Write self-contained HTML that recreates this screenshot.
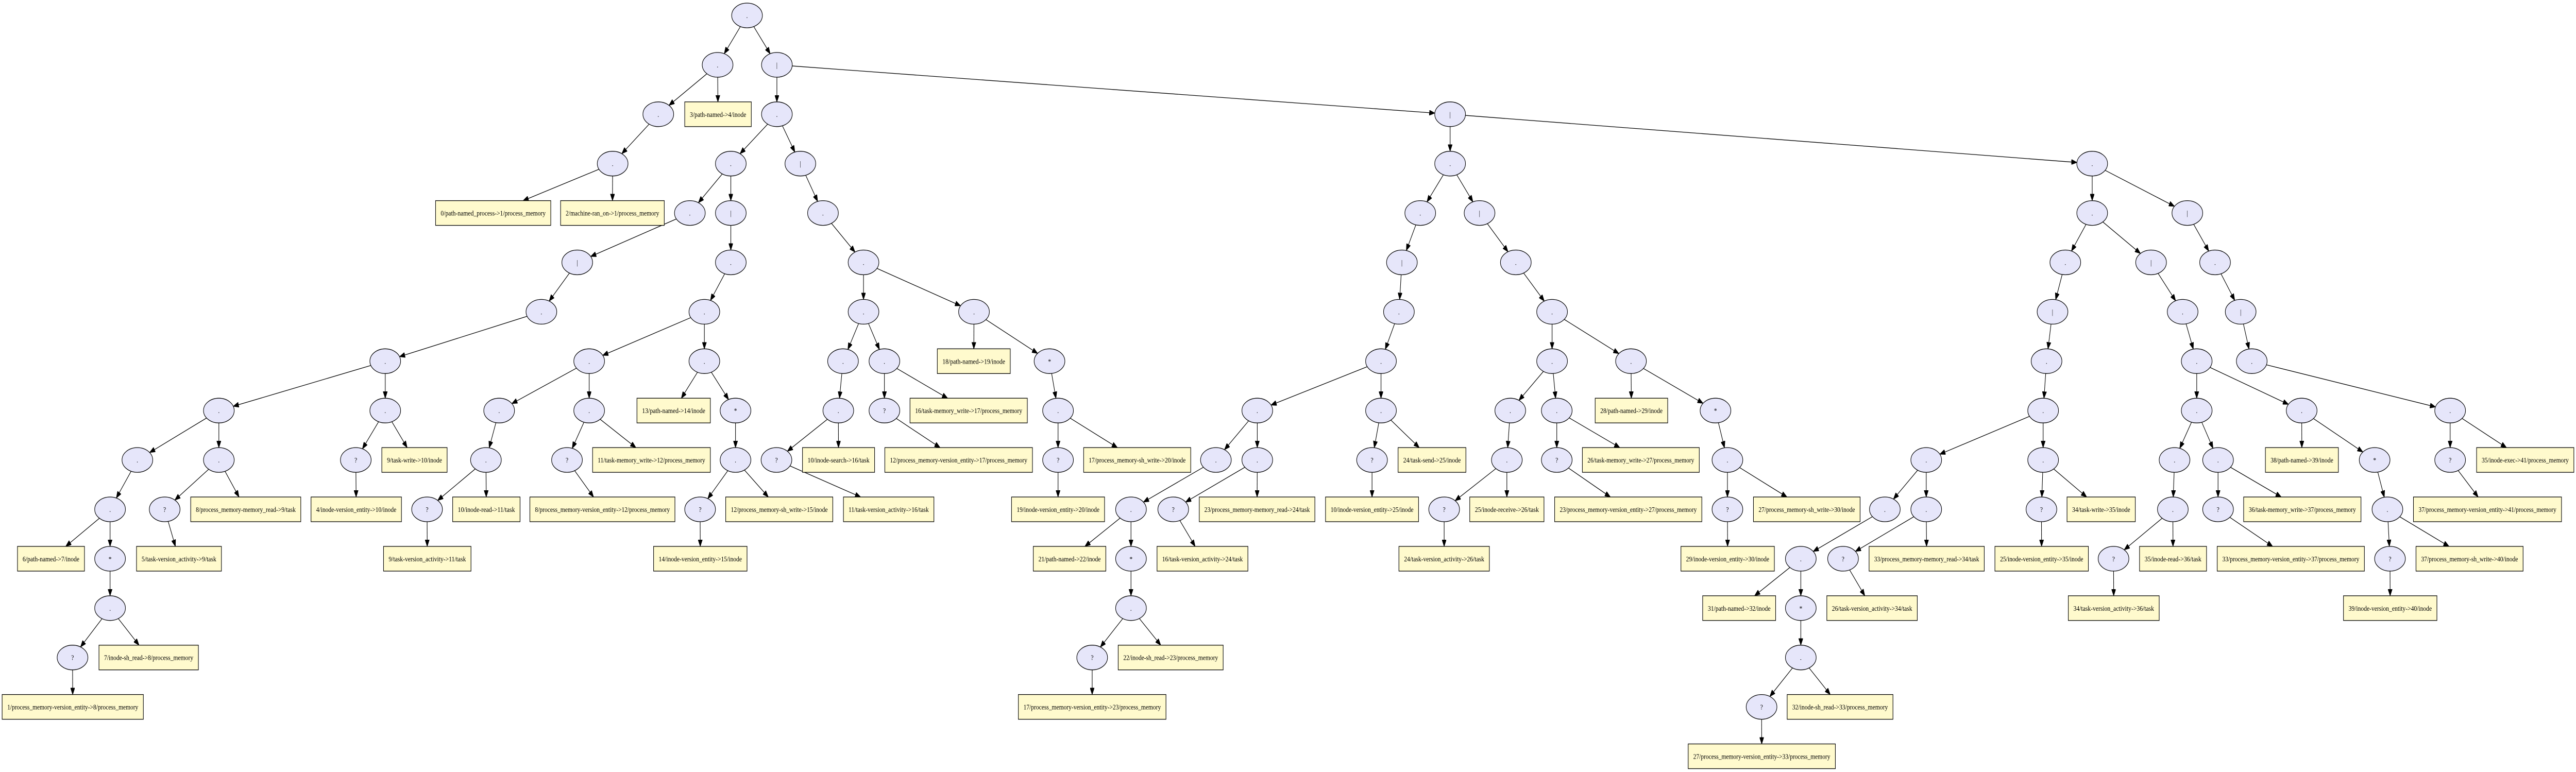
<!DOCTYPE html>
<html><head><meta charset="utf-8">
<style>
html,body{margin:0;padding:0;background:#fff;overflow:hidden;}
svg{display:block;width:100vw;height:100vh;}
text{font-family:"Liberation Serif",serif;font-size:14px;fill:#000;}
</style></head>
<body>
<svg id="g" xmlns="http://www.w3.org/2000/svg" viewBox="0 0 6038 1499" preserveAspectRatio="none">
<defs><marker id="ah" markerUnits="userSpaceOnUse" markerWidth="14" markerHeight="10" refX="13" refY="5" orient="auto"><path d="M0,0 L13,5 L0,10 Z" fill="#000" stroke="#000"/></marker></defs>
<g id="edges"></g><g id="nodes"></g>
</svg>
<script>
var Y=function(k){return 30+95.9*k;};
var E=[
["n0",1751,0,"."],["n1",1682,1,"."],["n2",1821,1,"|"],["n3",1543,2,"."],["n4",1821,2,"."],
["n5",1436,3,"."],["n6",1713,3,"."],["n7",1876,3,"|"],["n8",1617,4,"."],["n9",1713,4,"|"],["n10",1929,4,"."],
["n11",1353,5,"|"],["n12",1713,5,"."],["n13",2024,5,"."],["n14",1269,6,"."],["n15",1651,6,"."],["n16",2024,6,"."],["n17",2283,6,"."],
["n18",903,7,"."],["n19",1381,7,"."],["n20",1651,7,"."],["n21",1976,7,"."],["n22",2073,7,"."],["n23",2460,7,"*"],
["n24",513,8,"."],["n25",903,8,"."],["n26",1170,8,"."],["n27",1381,8,"."],["n28",1724,8,"*"],["n29",1965,8,"."],["n30",2073,8,"?"],["n31",2480,8,"."],["n32",2947,8,"."],
["n33",322,9,"."],["n34",513,9,"."],["n35",834,9,"?"],["n36",1139,9,"."],["n37",1329,9,"?"],["n38",1724,9,"."],["n39",1820,9,"?"],["n40",2480,9,"?"],["n41",2850,9,"."],["n42",2947,9,"."],
["n43",258,10,"."],["n44",386,10,"?"],["n45",1001,10,"?"],["n46",1641,10,"?"],["n47",2651,10,"."],["n48",2750,10,"?"],
["n49",258,11,"*"],["n50",2651,11,"*"],["n51",258,12,"."],["n52",2651,12,"."],["n53",170,13,"?"],["n54",2560,13,"?"],
["m0",3399,2,"|"],["m1",3399,3,"."],["m2",3329,4,"."],["m3",3468,4,"|"],["m4",3286,5,"|"],["m5",3553,5,"."],["m6",3279,6,"."],["m7",3638,6,"."],
["m8",3237,7,"."],["m9",3638,7,"."],["m10",3823,7,"."],["m11",3237,8,"."],["m12",3540,8,"."],["m13",3649,8,"."],["m14",4021,8,"*"],
["m15",3216,9,"?"],["m16",3532,9,"."],["m17",3649,9,"?"],["m18",4049,9,"."],["m19",3385,10,"?"],["m20",4049,10,"?"],
["p0",4904,3,"."],["p1",4904,4,"."],["p2",5127,4,"|"],["p3",4841,5,"."],["p4",5042,5,"|"],["p5",5192,5,"."],
["p6",4811,6,"|"],["p7",5116,6,"."],["p8",5252,6,"|"],["p9",4797,7,"."],["p10",5149,7,"."],["p11",5278,7,"."],
["p12",4789,8,"."],["p13",5149,8,"."],["p14",5395,8,"."],["p15",5743,8,"."],
["p16",4515,9,"."],["p17",4789,9,"."],["p18",5097,9,"."],["p19",5199,9,"."],["p20",5566,9,"*"],["p21",5743,9,"?"],
["p22",4418,10,"."],["p23",4515,10,"."],["p24",4785,10,"?"],["p25",5093,10,"."],["p26",5199,10,"?"],["p27",5596,10,"."],
["p28",4221,11,"."],["p29",4320,11,"?"],["p30",4954,11,"?"],["p31",5602,11,"?"],["p32",4221,12,"*"],["p33",4221,13,"."],["p34",4129,14,"?"]
];
var B=[
["b3",1605,1761,2,"3/path-named->4/inode"],
["b0",1021,1291,4,"0/path-named_process->1/process_memory"],
["b2",1314,1557,4,"2/machine-ran_on->1/process_memory"],
["b18",2197,2368,7,"18/path-named->19/inode"],
["b13",1493,1665,8,"13/path-named->14/inode"],
["b16mw",2133,2408,8,"16/task-memory_write->17/process_memory"],
["b9w",895,1048,9,"9/task-write->10/inode"],
["b11mw",1389,1665,9,"11/task-memory_write->12/process_memory"],
["b10s",1881,2050,9,"10/inode-search->16/task"],
["b12v",2074,2420,9,"12/process_memory-version_entity->17/process_memory"],
["b17sh",2540,2791,9,"17/process_memory-sh_write->20/inode"],
["b8mr",447,705,10,"8/process_memory-memory_read->9/task"],
["b4v",729,941,10,"4/inode-version_entity->10/inode"],
["b10r",1061,1219,10,"10/inode-read->11/task"],
["b8v",1242,1582,10,"8/process_memory-version_entity->12/process_memory"],
["b12sh",1701,1952,10,"12/process_memory-sh_write->15/inode"],
["b11va",1977,2189,10,"11/task-version_activity->16/task"],
["b19v",2371,2589,10,"19/inode-version_entity->20/inode"],
["b23mr",2811,3082,10,"23/process_memory-memory_read->24/task"],
["b6",41,198,11,"6/path-named->7/inode"],
["b5va",320,519,11,"5/task-version_activity->9/task"],
["b9va",899,1104,11,"9/task-version_activity->11/task"],
["b14v",1532,1751,11,"14/inode-version_entity->15/inode"],
["b21",2422,2592,11,"21/path-named->22/inode"],
["b16va",2712,2925,11,"16/task-version_activity->24/task"],
["b7sr",232,465,13,"7/inode-sh_read->8/process_memory"],
["b22sr",2621,2867,13,"22/inode-sh_read->23/process_memory"],
["b1v",5,336,14,"1/process_memory-version_entity->8/process_memory"],
["b17v",2387,2733,14,"17/process_memory-version_entity->23/process_memory"],
["b28",3739,3909,8,"28/path-named->29/inode"],
["b24s",3277,3436,9,"24/task-send->25/inode"],
["b26mw",3709,3983,9,"26/task-memory_write->27/process_memory"],
["b10v",3107,3325,10,"10/inode-version_entity->25/inode"],
["b25r",3445,3619,10,"25/inode-receive->26/task"],
["b23v",3644,3989,10,"23/process_memory-version_entity->27/process_memory"],
["b27sh",4110,4360,10,"27/process_memory-sh_write->30/inode"],
["b24va",3279,3491,11,"24/task-version_activity->26/task"],
["b29v",3940,4159,11,"29/inode-version_entity->30/inode"],
["b31",3991,4162,12,"31/path-named->32/inode"],
["b26va",4282,4494,12,"26/task-version_activity->34/task"],
["b32sr",4189,4437,14,"32/inode-sh_read->33/process_memory"],
["b27v",3957,4302,15,"27/process_memory-version_entity->33/process_memory"],
["b33mr",4381,4651,11,"33/process_memory-memory_read->34/task"],
["b25v",4676,4895,11,"25/inode-version_entity->35/inode"],
["b34w",4845,5005,10,"34/task-write->35/inode"],
["b34va",4848,5061,12,"34/task-version_activity->36/task"],
["b35r",5015,5172,11,"35/inode-read->36/task"],
["b36mw",5259,5534,10,"36/task-memory_write->37/process_memory"],
["b33v",5197,5542,11,"33/process_memory-version_entity->37/process_memory"],
["b38",5310,5481,9,"38/path-named->39/inode"],
["b37sh",5663,5914,11,"37/process_memory-sh_write->40/inode"],
["b39v",5493,5712,12,"39/inode-version_entity->40/inode"],
["b35e",5805,6033,9,"35/inode-exec->41/process_memory"],
["b37v",5657,6004,10,"37/process_memory-version_entity->41/process_memory"]
];
var ED="n0-n1 n0-n2 n1-n3 n1-b3 n3-n5 n5-b0 n5-b2 n2-n4 n2-m0 n4-n6 n4-n7 n6-n8 n6-n9 n8-n11 n11-n14 n14-n18 n18-n24 n18-n25 n24-n33 n24-n34 n33-n43 n43-b6 n43-n49 n49-n51 n51-n53 n51-b7sr n53-b1v n34-n44 n34-b8mr n44-b5va n25-n35 n25-b9w n35-b4v "+
"n9-n12 n12-n15 n15-n19 n15-n20 n19-n26 n19-n27 n26-n36 n36-n45 n36-b10r n45-b9va n27-n37 n27-b11mw n37-b8v n20-b13 n20-n28 n28-n38 n38-n46 n38-b12sh n46-b14v "+
"n7-n10 n10-n13 n13-n16 n13-n17 n16-n21 n16-n22 n21-n29 n29-n39 n29-b10s n39-b11va n22-n30 n22-b16mw n30-b12v n17-b18 n17-n23 n23-n31 n31-n40 n31-b17sh n40-b19v "+
"m0-m1 m0-p0 m1-m2 m1-m3 m2-m4 m4-m6 m6-m8 m8-n32 m8-m11 n32-n41 n32-n42 n41-n47 n47-b21 n47-n50 n50-n52 n52-n54 n52-b22sr n54-b17v n42-n48 n42-b23mr n48-b16va m11-m15 m11-b24s m15-b10v "+
"m3-m5 m5-m7 m7-m9 m7-m10 m9-m12 m9-m13 m12-m16 m16-m19 m16-b25r m19-b24va m13-m17 m13-b26mw m17-b23v m10-b28 m10-m14 m14-m18 m18-m20 m18-b27sh m20-b29v "+
"p0-p1 p0-p2 p1-p3 p1-p4 p3-p6 p6-p9 p9-p12 p12-p16 p12-p17 p16-p22 p16-p23 p22-p28 p28-b31 p28-p32 p32-p33 p33-p34 p33-b32sr p34-b27v p23-p29 p23-b33mr p29-b26va p17-p24 p17-b34w p24-b25v "+
"p4-p7 p7-p10 p10-p13 p10-p14 p13-p18 p13-p19 p18-p25 p25-p30 p25-b35r p30-b34va p19-p26 p19-b36mw p26-b33v p14-b38 p14-p20 p20-p27 p27-p31 p27-b37sh p31-b39v "+
"p2-p5 p5-p8 p8-p11 p11-p15 p15-p21 p15-b35e p21-b37v";
var NS="http://www.w3.org/2000/svg",G={};
var ng=document.getElementById("nodes"),eg=document.getElementById("edges");
function mk(t,a,p){var e=document.createElementNS(NS,t);for(var k in a)e.setAttribute(k,a[k]);p.appendChild(e);return e;}
var RX=36,RY=24,HH=24;
E.forEach(function(d){var x=d[1],y=Y(d[2]);G[d[0]]={t:"e",x:x,y:y};
 mk("ellipse",{cx:x,cy:y,rx:RX,ry:RY,fill:"#e6e6fa",stroke:"#000","stroke-width":"1.3"},ng);
 var t=mk("text",{x:x,y:y+5,"text-anchor":"middle"},ng);t.textContent=d[3];});
B.forEach(function(d){var x1=d[1],x2=d[2],y=Y(d[3]);G[d[0]]={t:"b",x:(x1+x2)/2,y:y,w:(x2-x1)/2};
 mk("rect",{x:x1,y:y-HH,width:x2-x1,height:2*HH,fill:"#fffacd",stroke:"#000","stroke-width":"1.3"},ng);
 var t=mk("text",{x:(x1+x2)/2,y:y+5,"text-anchor":"middle",textLength:(x2-x1-24),lengthAdjust:"spacingAndGlyphs"},ng);t.textContent=d[4];});
function clip(n,dx,dy){
 if(n.t==="e"){var s=1/Math.sqrt(dx*dx/(RX*RX)+dy*dy/(RY*RY));return [n.x+dx*s,n.y+dy*s];}
 var sx=Math.abs(dx)>0?n.w/Math.abs(dx):1e9,sy=Math.abs(dy)>0?HH/Math.abs(dy):1e9,s=Math.min(sx,sy);return [n.x+dx*s,n.y+dy*s];}
ED.split(" ").forEach(function(p){var a=p.split("-"),s=G[a[0]],t=G[a[1]];if(!s||!t)return;
 var dx=t.x-s.x,dy=t.y-s.y,p1=clip(s,dx,dy),p2=clip(t,-dx,-dy);
 mk("line",{x1:p1[0],y1:p1[1],x2:p2[0],y2:p2[1],stroke:"#000","stroke-width":"1.3","marker-end":"url(#ah)"},eg);});
</script>
</body></html>
